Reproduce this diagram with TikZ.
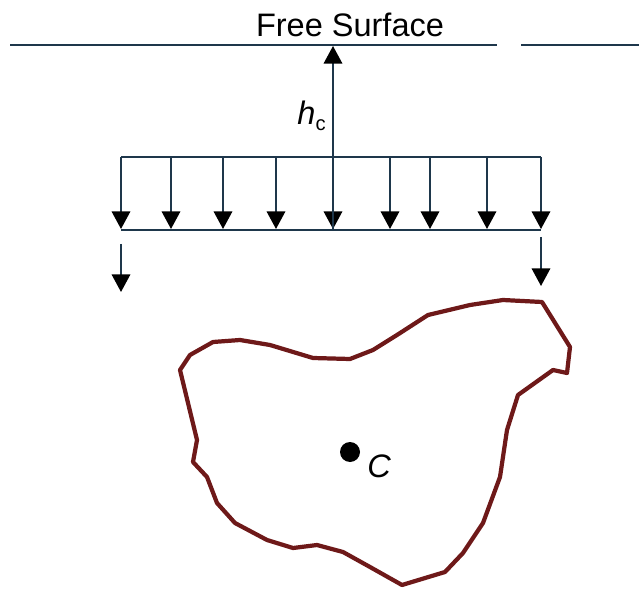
\documentclass[tikz,border=0pt]{standalone}
\usepackage{fontspec}
\setmainfont{Liberation Sans}
\usetikzlibrary{arrows.meta}
\definecolor{lineblue}{RGB}{30,55,75}
\definecolor{blobred}{RGB}{110,25,25}

\begin{document}
\begin{tikzpicture}[
  x=0.02cm, y=-0.02cm,
  surface/.style={lineblue, line width=1.1pt},
  load/.style={lineblue, line width=1.1pt, -{Triangle[width=10.5pt, length=10pt, color=black]}},
  blob/.style={blobred, line width=2.4pt, line join=round},
  lbl/.style={font=\fontsize{18.5}{22}\selectfont, inner sep=0pt}
]
\useasboundingbox (0,0) rectangle (639,591);

\node[lbl] (fs) at (350,25) {Free Surface};
\coordinate (fsL) at (10,45);
\coordinate (fsM) at (497,45);
\coordinate (fsN) at (521,45);
\coordinate (fsR) at (639,45);
\draw[surface] (fsL) -- (fsM);
\draw[surface] (fsN) -- (fsR);

\coordinate (topL) at (121,157);
\coordinate (topR) at (541,157);
\coordinate (botL) at (121,230);
\coordinate (botR) at (541,230);
\draw[surface] (topL) -- (topR);
\draw[surface] (botL) -- (botR);

\foreach \x [count=\i] in {121,171,223,276,333,390,430,487,541} {
  \coordinate (t\i) at (\x,157);
  \coordinate (b\i) at (\x,229);
  \draw[load] (t\i) -- (b\i);
}

\coordinate (top) at (333,46);
\draw[load] (b5) -- (top);
\node[lbl, anchor=east] (hc) at (326,116) {\textit{h}\raisebox{-0.35ex}{\fontsize{11.5}{12}\selectfont c}};

\coordinate (sL1) at (121,244);
\coordinate (sL2) at (121,292);
\coordinate (sR1) at (541,237);
\coordinate (sR2) at (541,286);
\draw[load] (sL1) -- (sL2);
\draw[load] (sR1) -- (sR2);

\draw[blob] (180,370) -- (190,355) -- (213,342) -- (240,340) -- (270,345)
  -- (313,358) -- (350,359) -- (373,350) -- (397,335) -- (428,315)
  -- (470,305) -- (503,300) -- (542,302) -- (570,347) -- (567,373)
  -- (553,370) -- (518,395) -- (507,430) -- (500,477) -- (483,523)
  -- (463,553) -- (445,572) -- (402,585) -- (370,567) -- (343,552)
  -- (317,545) -- (293,548) -- (267,540) -- (235,523) -- (217,503)
  -- (207,477) -- (193,462) -- (197,440) -- cycle;

\fill (350,452) circle[radius=10] coordinate (cg);
\node[lbl, anchor=west] (c) at (367,466) {\textit{C}};
\end{tikzpicture}
\end{document}
